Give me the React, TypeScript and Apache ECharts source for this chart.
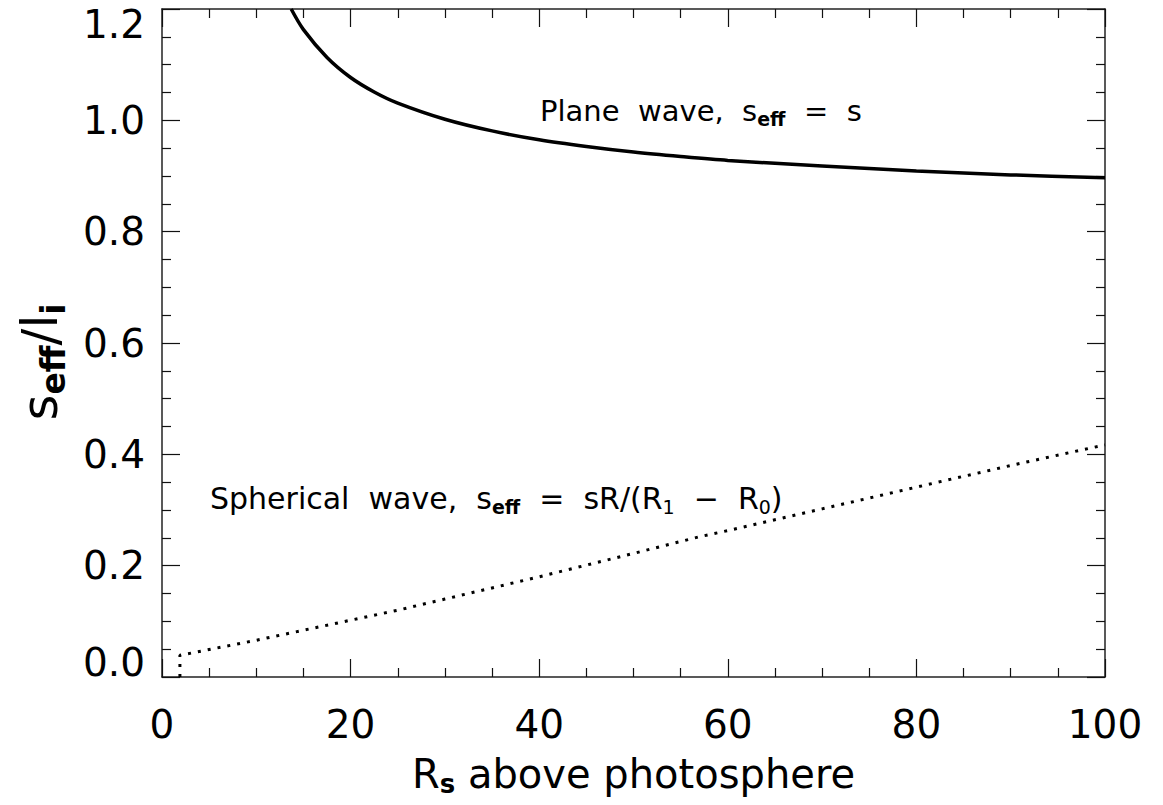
import React, { useEffect, useRef } from "react";
import * as echarts from "echarts";

// Solid curve: plane wave (x, s_eff / l_i)
const planeX = [13.7, 15, 17.5, 20, 22.5, 25, 30, 35, 40, 45, 50, 55, 60, 70, 80, 90, 100];
const planeY = [1.2, 1.163, 1.113, 1.077, 1.051, 1.031, 1.002, 0.981, 0.965, 0.953, 0.943, 0.935, 0.928, 0.918, 0.909, 0.902, 0.897];

// Dotted curve: spherical wave
const sphX = [1.9, 1.9, 10, 20, 25, 30, 40, 50, 57, 60, 70, 80, 90, 100];
const sphY = [0.0, 0.039, 0.066, 0.102, 0.12, 0.14, 0.18, 0.222, 0.252, 0.263, 0.302, 0.341, 0.38, 0.417];

const xTicks = { min: 0, max: 100, interval: 20 };
const yTicks = { min: 0, max: 1.2, interval: 0.2 };

const FONT = "DejaVu Sans";

export default function App() {
  const ref = useRef<HTMLDivElement>(null);
  useEffect(() => {
    const chart = echarts.init(ref.current!, null, { renderer: "svg" });
    const axisCommon = {
      axisLine: { show: true, onZero: false, lineStyle: { color: "#222", width: 1.5 } },
      axisTick: { show: true, inside: true, length: 18, lineStyle: { color: "#111", width: 1.2 } },
      minorTick: { show: true, splitNumber: 4, length: 9, lineStyle: { color: "#111", width: 1.2 } },
      splitLine: { show: false },
      minorSplitLine: { show: false },
    };
    const toData = (xs: number[], ys: number[]) => xs.map((x, i) => [x, ys[i]]);
    const labelRich = { fontSize: 39, fontFamily: FONT, color: "#000", lineHeight: 30 };
    chart.setOption({
      animation: false,
      backgroundColor: "#fff",
      grid: { left: 162, top: 9, width: 943, height: 668, containLabel: false },
      xAxis: [
        {
          type: "value",
          ...xTicks,
          position: "bottom",
          ...axisCommon,
          axisLabel: { fontSize: 39, fontFamily: FONT, color: "#000", margin: 28 },
          name: "{a|R}{b|s}{a| above photosphere}",
          nameLocation: "middle",
          nameGap: 74,
          nameTextStyle: {
            fontFamily: FONT,
            rich: {
              a: { fontSize: 40, fontFamily: FONT, color: "#000" },
              b: { fontSize: 26, fontFamily: FONT, fontWeight: "bold", color: "#000", padding: [20, 0, 0, 0] },
            },
          },
        },
        {
          type: "value",
          ...xTicks,
          position: "top",
          ...axisCommon,
          axisLabel: { show: false },
        },
      ],
      yAxis: [
        {
          type: "value",
          ...yTicks,
          position: "left",
          ...axisCommon,
          axisLabel: {
            fontSize: 39,
            fontFamily: FONT,
            color: "#000",
            margin: 17,
            verticalAlignMinLabel: "bottom",
            verticalAlignMaxLabel: "top",
            formatter: (v: number) =>
              Math.abs(v - 1.2) < 1e-9 || Math.abs(v) < 1e-9 ? "{t|" + v.toFixed(1) + "}" : v.toFixed(1),
            rich: { t: labelRich },
          },
        },
        {
          type: "value",
          ...yTicks,
          position: "right",
          ...axisCommon,
          axisLabel: { show: false },
        },
      ],
      series: [
        {
          type: "line",
          data: toData(planeX, planeY),
          smooth: 0.3,
          symbol: "none",
          clip: true,
          lineStyle: { color: "#000", width: 3.5 },
        },
        {
          type: "line",
          data: toData(sphX, sphY),
          symbol: "none",
          clip: true,
          lineStyle: { color: "#000", width: 3, type: [3, 7], cap: "butt" },
        },
      ],
      graphic: [
        {
          type: "text",
          left: 540,
          top: 96,
          style: {
            text: "{a|Plane  wave,  s}{b|eff}{a|  =  s}",
            rich: {
              a: { fontSize: 29, fontFamily: FONT, fill: "#000" },
              b: { fontSize: 19, fontFamily: FONT, fontWeight: "bold", fill: "#000", padding: [17, 0, 0, 0] },
            },
          },
        },
        {
          type: "text",
          left: 210,
          top: 483,
          style: {
            text: "{a|Spherical  wave,  s}{b|eff}{a|  =  sR/(R}{c|1}{a|  −  R}{c|0}{a|)}",
            rich: {
              a: { fontSize: 30, fontFamily: FONT, fill: "#000" },
              b: { fontSize: 19, fontFamily: FONT, fontWeight: "bold", fill: "#000", padding: [17, 0, 0, 0] },
              c: { fontSize: 19, fontFamily: FONT, fill: "#000", padding: [17, 0, 0, 0] },
            },
          },
        },
        {
          type: "text",
          x: 40,
          y: 362,
          rotation: Math.PI / 2,
          style: {
            text: "{a|s}{b|eff}{a|/l}{b|i}",
            align: "center",
            verticalAlign: "middle",
            rich: {
              a: { fontSize: 50, fontFamily: FONT, fill: "#000" },
              b: { fontSize: 33, fontFamily: FONT, fontWeight: "bold", fill: "#000", padding: [27, 0, 0, 0] },
            },
          },
        },
      ],
    });
    return () => chart.dispose();
  }, []);
  return (
    <div
      ref={ref}
      style={{ position: "fixed", left: 0, top: 0, width: 1163, height: 805, background: "#fff" }}
    />
  );
}
